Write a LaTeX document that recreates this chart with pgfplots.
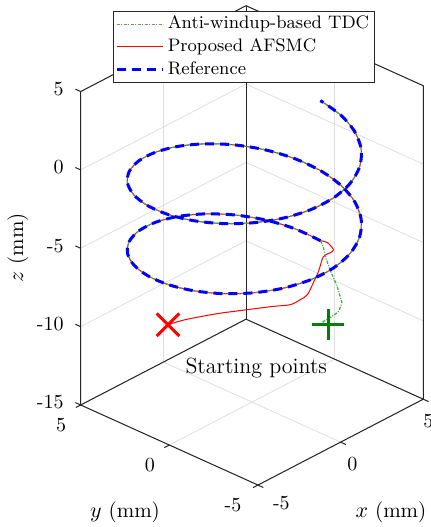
\documentclass[border=0pt]{standalone}
\usepackage{pgfplots}
\pgfplotsset{compat=1.18}
\usepackage{pgfplotstable}
\definecolor{mgreen}{rgb}{0,0.5,0}
\definecolor{lgreen}{rgb}{0.3,0.68,0.3}
\definecolor{axgray}{rgb}{0.15,0.15,0.15}
\pgfplotstableread{
x y z
4.600 0.430 -7.440
4.443 1.732 -7.254
3.984 2.945 -7.068
3.253 3.987 -6.881
2.300 4.786 -6.695
1.190 5.289 -6.509
0.000 5.460 -6.323
-1.190 5.289 -6.136
-2.300 4.786 -5.950
-3.253 3.987 -5.764
-3.984 2.945 -5.578
-4.443 1.732 -5.391
-4.600 0.430 -5.205
-4.443 -0.872 -5.019
-3.984 -2.085 -4.833
-3.253 -3.127 -4.646
-2.300 -3.926 -4.460
-1.190 -4.429 -4.274
0.000 -4.600 -4.088
1.190 -4.429 -3.901
2.300 -3.926 -3.715
3.253 -3.127 -3.529
3.984 -2.085 -3.343
4.443 -0.872 -3.156
4.600 0.430 -2.970
4.443 1.732 -2.784
3.984 2.945 -2.598
3.253 3.987 -2.411
2.300 4.786 -2.225
1.190 5.289 -2.039
0.000 5.460 -1.853
-1.190 5.289 -1.666
-2.300 4.786 -1.480
-3.253 3.987 -1.294
-3.984 2.945 -1.108
-4.443 1.732 -0.921
-4.600 0.430 -0.735
-4.443 -0.872 -0.549
-3.984 -2.085 -0.363
-3.253 -3.127 -0.176
-2.300 -3.926 0.010
-1.190 -4.429 0.196
0.000 -4.600 0.383
1.190 -4.429 0.569
2.300 -3.926 0.755
3.253 -3.127 0.941
3.984 -2.085 1.128
4.443 -0.872 1.314
4.600 0.430 1.500
}\helix
\pgfplotstableread{
x y z
-2.490 2.420 -9.935
-1.790 2.224 -9.931
-0.997 2.001 -10.028
-0.064 1.739 -10.181
1.195 1.386 -10.466
2.408 1.045 -10.745
3.200 0.823 -10.957
3.667 0.692 -10.826
3.994 0.600 -10.638
4.273 0.522 -9.985
4.507 0.456 -9.378
4.740 0.391 -8.514
5.066 0.299 -8.391
5.206 0.260 -8.256
4.927 0.338 -7.697
4.600 0.430 -7.440
}\redtr
\pgfplotstableread{
x y z
4.6 -0.006 -12.572
4.6 0.332 -12.620
4.6 -0.118 -12.068
4.6 -0.569 -11.452
4.6 -0.777 -10.770
4.6 -0.682 -10.436
4.6 -0.513 -9.885
4.6 -0.231 -9.265
4.6 -0.006 -8.743
4.6 0.163 -8.193
4.6 0.276 -7.740
4.6 0.430 -7.440
}\greentr
\tikzset{
  gstyle/.style={color=lgreen, line width=0.65pt, dash pattern=on 1.6pt off 0.7pt on 0.5pt off 0.7pt},
  rstyle/.style={color=red, line width=0.5pt, solid},
  bstyle/.style={color=blue, line width=1.5pt, dash pattern=on 4.5pt off 3pt},
}
\begin{document}
\begin{tikzpicture}
\begin{axis}[
  view={-47}{29},
  plot box ratio=1 1 1.48,
  scale only axis,
  width=171.3pt, height=239.7pt,
  xmin=-5, xmax=5, ymin=-5, ymax=5, zmin=-15, zmax=5,
  xtick={-5,0,5}, ytick={-5,0,5}, ztick={-15,-10,-5,0,5},
  xticklabels={\hspace*{11.7pt}\raisebox{4pt}{-5},0,5\hspace*{6.5pt}},
  yticklabels={-5\hspace*{5.5pt},0,5},
  grid=major,
  major grid style={black!13, line width=0.4pt},
  axis line style={draw=none},
  major tick length=0pt,
  clip=false,
  /pgf/number format/assume math mode=true,
  tick label style={font=\fontsize{10}{12}\selectfont},
  xticklabel style={anchor=center, xshift=5.85pt, yshift=-11pt},
  yticklabel style={anchor=center, xshift=-9.75pt, yshift=-10pt},
  zticklabel style={xshift=-5pt, yshift=1.5pt},
  xlabel={$x$ (mm)}, ylabel={$y$ (mm)}, zlabel={$z$ (mm)},
  every axis x label/.style={at={([shift={(155.15pt,-53.5pt)}]axis cs:-5,5,-15)}, anchor=center, font=\fontsize{10.5}{12.5}\selectfont},
  every axis y label/.style={at={([shift={(22.15pt,-53.5pt)}]axis cs:-5,5,-15)}, anchor=center, font=\fontsize{10.5}{12.5}\selectfont},
  every axis z label/.style={at={([shift={(-31.35pt,78.5pt)}]axis cs:-5,5,-15)}, anchor=center, rotate=90, font=\fontsize{10.5}{12.5}\selectfont},
  legend style={at={(axis description cs:0.0933,0.9896)}, anchor=north west,
    draw=axgray, line width=0.5pt, fill=white,
    inner xsep=1pt, inner ysep=0.8pt,
    font=\fontsize{9.05}{11}\selectfont,
    nodes={inner ysep=0.95pt, inner xsep=1.5pt, text depth=0.25em, text height=0.7em},
    row sep=0pt},
  legend cell align=left,
  legend image code/.code={\draw[#1] (0pt,0pt) -- (23.3pt,0pt);},
]
\coordinate (A) at (axis cs:-5,5,-15);
% box edges (back planes)
\draw[axgray, line width=0.5pt] (axis cs:-5,5,-15) -- (axis cs:-5,-5,-15) -- (axis cs:5,-5,-15) -- (axis cs:5,5,-15) -- cycle;
\draw[axgray, line width=0.5pt] (axis cs:-5,5,-15) -- (axis cs:-5,5,5) -- (axis cs:5,5,5) -- (axis cs:5,-5,5) -- (axis cs:5,-5,-15);
\draw[axgray, line width=0.5pt] (axis cs:5,5,-15) -- (axis cs:5,5,5);
% tick marks
\pgfplotsinvokeforeach{-15,-10,-5,0,5}{\draw[axgray, line width=0.5pt] (axis cs:-5,5,#1) -- (axis cs:-5,5.3,#1);}
\pgfplotsinvokeforeach{-5,0,5}{\draw[axgray, line width=0.5pt] (axis cs:-5,#1,-15) -- (axis cs:-5.3,#1,-15);}
\pgfplotsinvokeforeach{-5,0,5}{\draw[axgray, line width=0.5pt] (axis cs:#1,-5,-15) -- (axis cs:#1,-5.3,-15);}
\addplot3[rstyle, smooth, forget plot] table {\redtr};
\addplot3[rstyle, smooth, forget plot] table {\helix};
\addplot3[gstyle, smooth, forget plot] table {\greentr};
\addplot3[gstyle, smooth, forget plot] table {\helix};
\addplot3[bstyle, smooth, forget plot] table {\helix};
\addplot3[only marks, mark=x, mark size=8pt, mark options={red, line width=1.5pt, solid}, forget plot] coordinates {(-2.49,2.42,-9.935)};
\addplot3[only marks, mark=+, mark size=7.9pt, mark options={mgreen, line width=1.5pt, solid}, forget plot] coordinates {(4.6,-0.006,-12.572)};
\node[font=\fontsize{11}{13}\selectfont] at (axis cs:2.26,1.87,-15) {Starting points};
\addlegendimage{gstyle}
\addlegendentry{Anti-windup-based TDC}
\addlegendimage{rstyle}
\addlegendentry{Proposed AFSMC}
\addlegendimage{bstyle}
\addlegendentry{Reference}
\end{axis}
\pgfresetboundingbox
\path[use as bounding box] ([shift={(-40.35pt,-61pt)}]A) rectangle ([shift={(175.15pt,202.5pt)}]A);
\end{tikzpicture}
\end{document}
